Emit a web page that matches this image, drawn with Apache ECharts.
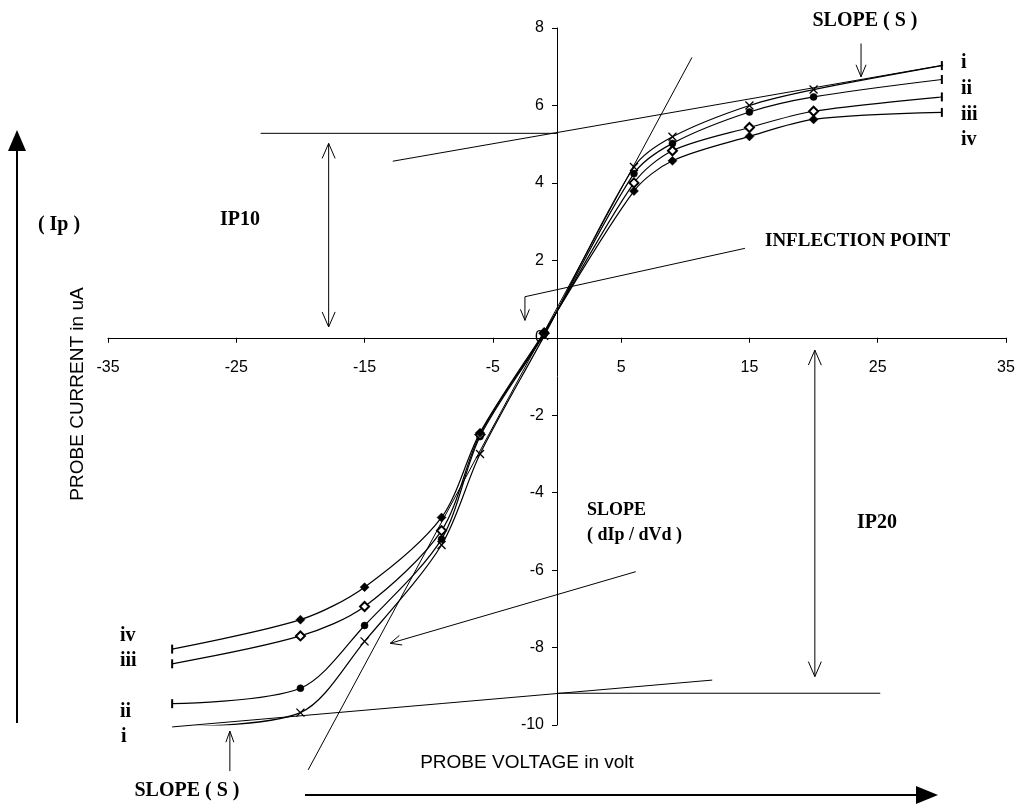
<!DOCTYPE html>
<html>
<head>
<meta charset="utf-8">
<script src="https://cdn.jsdelivr.net/npm/echarts@6/dist/echarts.min.js"></script>
<style>
html,body{margin:0;padding:0;background:#fff;}
#c{width:1018px;height:811px;}
</style>
</head>
<body>
<div id="c"></div>
<script>
// ---------------- data ----------------
const voltage = [-30, -20, -15, -9, -6, -1, 6, 9, 15, 20, 30];
const curveI   = [-10.05, -9.68, -7.84, -5.35, -3.00, 0.05, 4.41, 5.19, 6.00, 6.41, 7.03];
const curveII  = [-9.45, -9.05, -7.43, -5.20, -2.55, 0.10, 4.24, 5.02, 5.83, 6.22, 6.67];
const curveIII = [-8.42, -7.70, -6.94, -4.98, -2.50, 0.12, 4.00, 4.83, 5.43, 5.85, 6.22];
const curveIV  = [-8.04, -7.28, -6.44, -4.64, -2.45, 0.15, 3.79, 4.57, 5.20, 5.64, 5.82];
const seriesNames = ['i', 'ii', 'iii', 'iv'];
const xTickValues = [-35, -25, -15, -5, 5, 15, 25, 35];
const yTickValues = [-10, -8, -6, -4, -2, 0, 2, 4, 6, 8];

// annotation guide lines (data space)
const guideTangent   = [[-19.4, -11.16], [10.52, 7.24]];
const guideTopSlope  = [[-12.8, 4.56], [30.1, 7.04]];
const guideIP10Level = [[-23.1, 5.28], [0, 5.28]];
const guideBotSlope  = [[-30, -10.05], [12.1, -8.84]];
const guideIP20Level = [[0, -9.18], [25.2, -9.18]];
const guideInflect   = [[14.65, 2.31], [-2.5, 1.06]];
// arrows: from, to, double headed
const arrowIP10   = [[-17.8, 0.28], [-17.8, 5.02], true];
const arrowIP20   = [[20.1, -8.75], [20.1, -0.32], true];
const arrowTopS   = [[23.7, 7.6], [23.7, 6.74], false];
const arrowInfl   = [[-2.5, 1.06], [-2.5, 0.45], false];
const arrowDIp    = [[6.14, -6.04], [-13.0, -7.89], false];
const arrowBotS   = [[-25.5, -11.19], [-25.5, -10.16], false];

// ---------------- chart ----------------
const W = 1018, H = 811;
const gridL = 108, gridR = 12, gridT = 28, gridB = 86;
const chart = echarts.init(document.getElementById('c'), null, {renderer: 'canvas', width: W, height: H});
const curves = [curveI, curveII, curveIII, curveIV];
const markers = ['path://M0,0L10,10M10,0L0,10', 'circle', 'emptyDiamond', 'diamond'];
const markerSizes = [8, 7, 9, 9];
const markerBorder = [1.3, 0.5, 1.2, 0.5];

const series = curves.map((vals, s) => ({
  name: seriesNames[s],
  type: 'line',
  smooth: 0.3,
  symbol: markers[s],
  symbolSize: markerSizes[s],
  showAllSymbol: true,
  lineStyle: {color: '#000', width: 1.2},
  itemStyle: {color: '#000', borderColor: '#000', borderWidth: markerBorder[s]},
  emphasis: {disabled: true},
  silent: true,
  z: 3,
  data: voltage.map((v, k) => {
    const item = {value: [v, vals[k]]};
    if (k === 0 || k === voltage.length - 1) {
      item.symbol = 'rect';
      item.symbolSize = [2, 9];
      item.itemStyle = {color: '#000', borderWidth: 0};
    }
    return item;
  })
}));

const xMin = xTickValues[0], xMax = xTickValues[xTickValues.length - 1];
const yMin = yTickValues[0], yMax = yTickValues[yTickValues.length - 1];
// place axes through the origin (offset from grid edge)
const plotW = W - gridL - gridR, plotH = H - gridT - gridB;
const xAxisOffset = -plotH * (0 - yMin) / (yMax - yMin);
const yAxisOffset = -plotW * (0 - xMin) / (xMax - xMin);

chart.setOption({
  animation: false,
  backgroundColor: '#fff',
  grid: {left: gridL, right: gridR, top: gridT, bottom: gridB, containLabel: false, outerBoundsMode: 'none'},
  xAxis: {
    type: 'value', min: xMin, max: xMax, interval: xTickValues[1] - xTickValues[0],
    position: 'bottom', offset: xAxisOffset,
    axisLine: {show: true, onZero: false, lineStyle: {color: '#000', width: 1}},
    axisTick: {show: true, length: 5, lineStyle: {color: '#000'}},
    axisLabel: {color: '#000', fontFamily: 'Liberation Sans', fontSize: 16, margin: 22,
      showMinLabel: true, showMaxLabel: true},
    splitLine: {show: false}
  },
  yAxis: {
    type: 'value', min: yMin, max: yMax, interval: yTickValues[1] - yTickValues[0],
    position: 'left', offset: yAxisOffset,
    axisLine: {show: true, onZero: false, lineStyle: {color: '#000', width: 1}},
    axisTick: {show: true, length: 5, lineStyle: {color: '#000'}},
    axisLabel: {color: '#000', fontFamily: 'Liberation Sans', fontSize: 16, margin: 13},
    splitLine: {show: false}
  },
  series: series
});

// ---------------- annotations ----------------
function P(p) { return chart.convertToPixel({gridIndex: 0}, p); }
const G = [];
function seg(a, b, w) {
  const A = P(a), B = P(b);
  G.push({type: 'line', silent: true, z: 10,
    shape: {x1: A[0], y1: A[1], x2: B[0], y2: B[1]},
    style: {stroke: '#000', lineWidth: w || 1}});
}
function chevron(tipPx, fromPx, len, half) {
  const dx = fromPx[0] - tipPx[0], dy = fromPx[1] - tipPx[1];
  const d = Math.hypot(dx, dy) || 1;
  const ux = dx / d, uy = dy / d, nx = -uy, ny = ux;
  const bx = tipPx[0] + ux * len, by = tipPx[1] + uy * len;
  G.push({type: 'polyline', silent: true, z: 10,
    shape: {points: [[bx + nx * half, by + ny * half], tipPx, [bx - nx * half, by - ny * half]]},
    style: {stroke: '#000', lineWidth: 1, fill: null}});
}
function arrow(def, len, half) {
  const [a, b, both] = def;
  seg(a, b);
  const A = P(a), B = P(b);
  chevron(B, A, len, half);
  if (both) chevron(A, B, len, half);
}
[guideTangent, guideTopSlope, guideIP10Level, guideBotSlope, guideIP20Level, guideInflect]
  .forEach(g => seg(g[0], g[1]));
arrow(arrowIP10, 15, 6.5);
arrow(arrowIP20, 15, 6.5);
arrow(arrowTopS, 12, 5);
arrow(arrowInfl, 11, 4.5);
arrow(arrowDIp, 11, 5);
arrow(arrowBotS, 11, 4);

// decorative big axis arrows (pixel layout)
G.push({type: 'line', silent: true, shape: {x1: 17, y1: 723, x2: 17, y2: 148}, style: {stroke: '#000', lineWidth: 2}});
G.push({type: 'polygon', silent: true, shape: {points: [[17, 130], [26, 151], [8, 151]]}, style: {fill: '#000'}});
G.push({type: 'line', silent: true, shape: {x1: 305, y1: 795, x2: 918, y2: 795}, style: {stroke: '#000', lineWidth: 2}});
G.push({type: 'polygon', silent: true, shape: {points: [[938, 795], [916, 786], [916, 804]]}, style: {fill: '#000'}});

function txt(s, x, y, opt) {
  opt = opt || {};
  G.push({type: 'text', silent: true, z: 11, x: x, y: y, rotation: opt.rot || 0,
    style: {text: s, fill: '#000',
      font: (opt.bold === false ? '' : 'bold ') + (opt.size || 20) + 'px ' + (opt.family || '"Liberation Serif"'),
      align: opt.align || 'left', verticalAlign: 'middle'}});
}
txt('SLOPE ( S )', 865, 21, {align: 'center'});
txt('i', 961, 63); txt('ii', 961, 89); txt('iii', 961, 115); txt('iv', 961, 140);
txt('iv', 120, 636); txt('iii', 120, 661); txt('ii', 120, 712); txt('i', 121, 737);
txt('( Ip )', 59, 225, {align: 'center'});
txt('IP10', 240, 220, {align: 'center'});
txt('INFLECTION POINT', 765, 241, {size: 19});
txt('SLOPE', 587, 510, {size: 18});
txt('( dIp / dVd )', 587, 535, {size: 18});
txt('IP20', 877, 523, {align: 'center'});
txt('SLOPE ( S )', 187, 791, {align: 'center'});
txt('PROBE VOLTAGE in volt', 527, 763, {align: 'center', bold: false, size: 19, family: '"Liberation Sans"'});
txt('PROBE CURRENT in uA', 78, 394, {align: 'center', bold: false, size: 19, family: '"Liberation Sans"', rot: Math.PI / 2});

chart.setOption({graphic: {elements: G}});
</script>
</body>
</html>
